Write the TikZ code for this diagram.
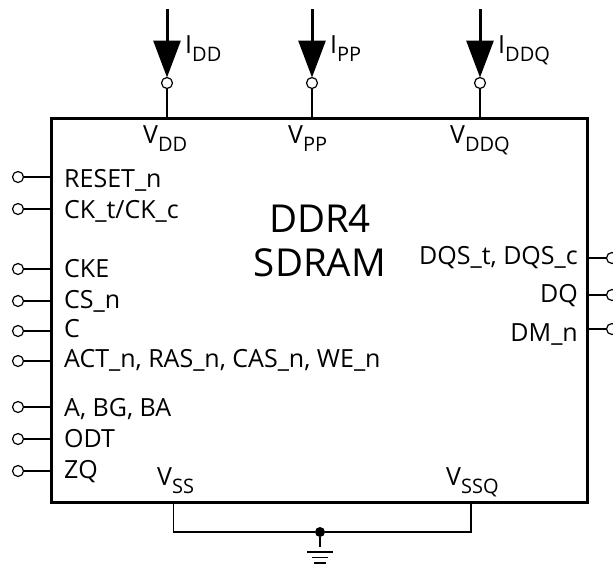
\documentclass[tikz,border=0pt]{standalone}
\usepackage{fontspec}
\setmainfont{Open Sans}
\usetikzlibrary{arrows.meta,positioning}
\newcommand{\PinSub}[2]{#1\raisebox{-8pt}{\fontsize{20}{22}\selectfont #2}}
\begin{document}
\begin{tikzpicture}[
 x=1pt,y=-1pt,
 font=\fontsize{25}{28}\selectfont,
 chip/.style={draw,line width=3pt,minimum width=536pt,minimum height=384pt,outer sep=0pt,inner sep=0pt},
 pin/.style={circle,draw,fill=white,line width=1.2pt,minimum size=11pt,inner sep=0pt,outer sep=0pt},
 lead/.style={draw,line width=1.5pt},
 label/.style={inner sep=0pt,anchor=base west},
 rlabel/.style={inner sep=0pt,anchor=base east},
 current/.style={-{Triangle[length=37pt,width=27pt]},line width=3pt},
 gnd/.style={line width=1.5pt}
]
 \useasboundingbox (0,0) rectangle (613,565);
 \node[chip] (ram) at (319.5,310) {};
 \node[align=center,font=\fontsize{38.5}{44}\selectfont] (title) at (320,241) {DDR4\\SDRAM};
 % supply pins on top
 \foreach \x/\n/\d in {167/DD/24,312/PP/24,480/DDQ/30}{
   \node[pin] (p\n) at (\x,83) {};
   \coordinate (t\n) at (\x,9);
   \draw[lead] (p\n)--(p\n |- ram.north);
   \draw[current] (t\n)--(p\n.north);
   \node[label] (i\n) at (\x+18,53) {\PinSub{I}{\n}};
   \node[label] (v\n) at (\x-\d,143) {\PinSub{V}{\n}};
 }
 % inputs
 \foreach \y/\b/\n/\t in {177/187/rst/{RESET\_n},209/218/ck/{CK\_t/CK\_c},269/277/cke/{CKE},301/308/cs/{CS\_n},
   331/337/c/{C},361/367/act/{ACT\_n, RAS\_n, CAS\_n, WE\_n},407/416/a/{A, BG, BA},439/447/odt/{ODT},471/478/zq/{ZQ}}{
   \node[pin] (\n) at (18,\y) {};
   \draw[lead] (\n)--(\n -| ram.west);
   \node[label] (l\n) at (64,\b) {\t};
 }
 % data
 \foreach \y/\b/\n/\t in {258/264/dqs/{DQS\_t, DQS\_c},295/302/dq/{DQ},329/341/dm/{DM\_n}}{
   \node[pin] (\n) at (612,\y) {};
   \draw[lead] (\n)--(\n -| ram.east);
   \node[rlabel] (l\n) at (578,\b) {\t};
 }
 % ground
 \node[label] (vss) at (157,485) {\PinSub{V}{SS}};
 \node[label] (vssq) at (446,485) {\PinSub{V}{SSQ}};
 \node[circle,fill,minimum size=10pt,inner sep=0pt] (tie) at (320,532) {};
 \coordinate (sa) at (173.5,532);
 \coordinate (sb) at (471,532);
 \coordinate (g1) at (320,552);
 \draw[lead] (sa |- ram.south)--(sa)--(tie)--(sb)--(sb |- ram.south);
 \draw[lead] (tie)--(320,547);
 \draw[gnd] ([xshift=-13pt]g1)--([xshift=13pt]g1);
 \draw[gnd] ([xshift=-8pt,yshift=-5.5pt]g1)--([xshift=8pt,yshift=-5.5pt]g1);
 \draw[gnd] ([xshift=-6pt,yshift=-11pt]g1)--([xshift=6pt,yshift=-11pt]g1);
\end{tikzpicture}
\end{document}
